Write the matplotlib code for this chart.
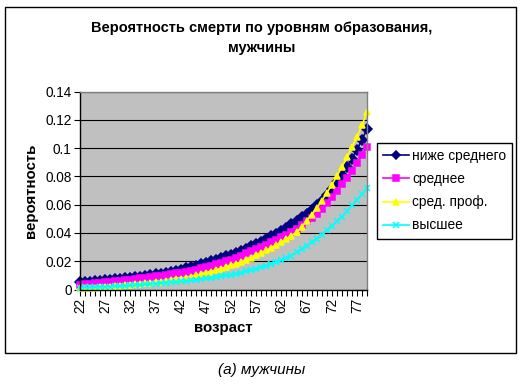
import matplotlib
matplotlib.use("Agg")
import matplotlib.pyplot as plt
from matplotlib.patches import Rectangle

plt.rcParams['font.family'] = ['Liberation Sans', 'DejaVu Sans']

# -- datos: probabilidad de muerte por edad (22-79) ---------------------------
ages = list(range(22, 80))

nizhe_srednego = [
    .0050, .0053, .0056, .0059, .0062, .0065, .0068, .0071, .0075, .0079,
    .0083, .0087, .0091, .0096, .0101, .0107, .0113, .0119, .0126, .0133,
    .0141, .0149, .0158, .0167, .0177, .0188, .0199, .0210, .0222, .0234,
    .0247, .0260, .0274, .0289, .0305, .0321, .0338, .0356, .0375, .0395,
    .0416, .0438, .0461, .0485, .0510, .0536, .0564, .0594, .0627, .0667,
    .0711, .0759, .0809, .0864, .0924, .0989, .1059, .1135]

srednee = [
    .0035, .0038, .0041, .0044, .0047, .0050, .0053, .0057, .0061, .0065,
    .0069, .0073, .0078, .0082, .0087, .0092, .0097, .0102, .0108, .0114,
    .0120, .0126, .0133, .0141, .0149, .0158, .0167, .0177, .0187, .0198,
    .0209, .0221, .0234, .0259, .0273, .0287, .0302, .0318, .0334, .0351,
    .0369, .0388, .0408, .0429, .0454, .0481, .0509, .0537, .0567, .0609,
    .0654, .0699, .0744, .0789, .0839, .0892, .0950, .1010]

sred_prof = [
    .0008, .0010, .0012, .0014, .0016, .0018, .0021, .0024, .0027, .0030,
    .0033, .0036, .0039, .0043, .0047, .0051, .0055, .0060, .0065, .0071,
    .0077, .0084, .0091, .0099, .0107, .0116, .0126, .0136, .0147, .0158,
    .0170, .0183, .0196, .0210, .0225, .0241, .0258, .0276, .0295, .0315,
    .0336, .0358, .0381, .0405, .0440, .0485, .0530, .0575, .0628, .0683,
    .0740, .0800, .0865, .0935, .1005, .1080, .1160, .1255]

vysshee = [
    .0014, .0015, .0016, .0017, .0018, .0019, .0021, .0023, .0025, .0027,
    .0029, .0031, .0033, .0036, .0039, .0042, .0045, .0048, .0051, .0054,
    .0057, .0061, .0065, .0069, .0073, .0078, .0083, .0088, .0093, .0099,
    .0105, .0112, .0120, .0128, .0137, .0146, .0156, .0166, .0180, .0193,
    .0207, .0222, .0240, .0262, .0285, .0310, .0335, .0360, .0388, .0418,
    .0450, .0481, .0516, .0552, .0594, .0635, .0675, .0718]

series = [
    ('ниже среднего', nizhe_srednego, '#000080', 'D'),
    ('среднее', srednee, '#FF00FF', 's'),
    ('сред. проф.', sred_prof, '#FFFF00', '^'),
    ('высшее', vysshee, '#00FFFF', 'x'),
]

fig = plt.figure(figsize=(5.22, 3.86), dpi=100)
fig.patch.set_facecolor('white')

# marco exterior del grafico
fig.patches.append(Rectangle((5 / 522, 1 - 353 / 386), 511 / 522, 346 / 386,
                             transform=fig.transFigure, fill=False,
                             edgecolor='black', lw=1.0))

ax = fig.add_axes([80 / 522, 1 - 289.5 / 386, 287 / 522, 198 / 386])
ax.set_facecolor('#C0C0C0')

x = list(range(len(ages)))
for name, vals, col, mk in series:
    ax.plot(x, vals, color=col, lw=1.2, marker=mk, ms=5,
            mec=col, mfc=col, mew=1.1, label=name, clip_on=False)

ax.set_xlim(0, len(ages) - 1)
ax.set_ylim(0, 0.14)
ax.set_yticks([0, 0.02, 0.04, 0.06, 0.08, 0.1, 0.12, 0.14])
ax.set_yticklabels(['0', '0.02', '0.04', '0.06', '0.08', '0.1', '0.12', '0.14'],
                   fontsize=9.8)
ax.grid(axis='y', color='black', lw=0.8)
ax.set_axisbelow(True)

ax.set_xticks(x)
ax.set_xticklabels([str(a) if (a - 22) % 5 == 0 else '' for a in ages],
                   rotation=90, fontsize=9.8)
ax.tick_params(axis='x', length=4, width=0.8, direction='out', pad=2)
ax.tick_params(axis='y', length=4, width=0.8, direction='out', pad=2)

for s in ['left', 'bottom']:
    ax.spines[s].set_color('black')
    ax.spines[s].set_linewidth(1.0)
for s in ['top', 'right']:
    ax.spines[s].set_color('#808080')
    ax.spines[s].set_linewidth(1.0)

ax.set_xlabel('возраст', fontsize=10.8, fontweight='bold', labelpad=6)
ax.set_ylabel('вероятность', fontsize=10.8, fontweight='bold', labelpad=5)

fig.text(262 / 522, 1 - 28 / 386, 'Вероятность смерти по уровням образования,',
         ha='center', va='center', fontsize=10.5, fontweight='bold')
fig.text(262 / 522, 1 - 48 / 386, 'мужчины',
         ha='center', va='center', fontsize=10.5, fontweight='bold')

leg = ax.legend(loc='upper left', bbox_to_anchor=(377 / 522, 1 - 143 / 386),
                bbox_transform=fig.transFigure, fontsize=9.9, frameon=True,
                fancybox=False, edgecolor='black', framealpha=1,
                handlelength=1.9, handletextpad=0.2, labelspacing=0.66,
                borderpad=0.45, borderaxespad=0, markerscale=0.8)
leg.get_frame().set_linewidth(1.0)

fig.text(262 / 522, 1 - 370 / 386, '(а) мужчины', ha='center', va='center',
         fontsize=11, style='italic')

fig.savefig('out.png', dpi=100)
